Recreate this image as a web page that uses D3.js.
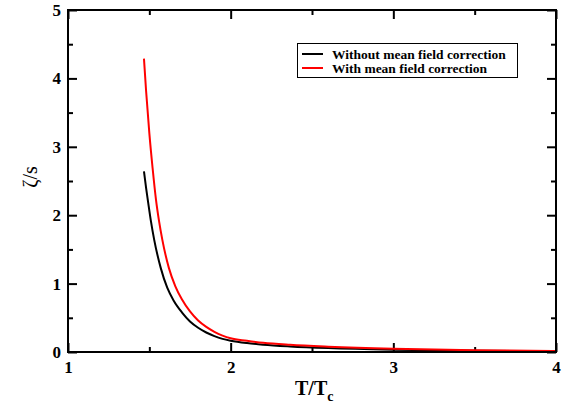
<!DOCTYPE html>
<html>
<head>
<meta charset="utf-8">
<script src="https://cdn.jsdelivr.net/npm/d3@7"></script>
<style>
  body { margin: 0; background: #fff; }
  svg text { font-family: "Liberation Serif", "Times New Roman", serif; }
</style>
</head>
<body>
<div id="chart"></div>
<script>
// values
const tNoMF    = [1.467, 1.48, 1.492, 1.51, 1.53, 1.57, 1.61, 1.65, 1.70, 1.75, 1.80, 1.85, 1.90, 1.95, 2.00, 2.10, 2.20, 2.365, 2.60, 3.00, 3.50, 4.00];
const zetaNoMF = [2.64, 2.40, 2.20, 1.91, 1.64, 1.23, 0.94, 0.75, 0.58, 0.447, 0.355, 0.285, 0.232, 0.192, 0.165, 0.13, 0.107, 0.082, 0.058, 0.034, 0.019, 0.011];
const tMF      = [1.467, 1.48, 1.50, 1.52, 1.541, 1.56, 1.58, 1.62, 1.66, 1.70, 1.75, 1.80, 1.85, 1.90, 1.95, 2.00, 2.10, 2.20, 2.365, 2.60, 3.00, 3.50, 4.00];
const zetaMF   = [4.29, 3.82, 3.20, 2.69, 2.225, 1.91, 1.64, 1.23, 0.96, 0.77, 0.593, 0.46, 0.367, 0.295, 0.24, 0.20, 0.165, 0.135, 0.105, 0.077, 0.046, 0.026, 0.015];
const seriesNames = ["Without mean field correction", "With mean field correction"];
const seriesColors = ["#000000", "#ff0000"];
const xMajor = [1, 2, 3, 4], xMinor = [1.5, 2.5, 3.5];
const yMajor = [0, 1, 2, 3, 4, 5], yMinor = [0.5, 1.5, 2.5, 3.5, 4.5];

let width = 577, height = 409;
let mLeft = 68, mRight = 556, mTop = 10, mBottom = 352;

let svg = d3.select("#chart").append("svg")
    .attr("width", width).attr("height", height);

let x = d3.scaleLinear().domain([1, 4]).range([mLeft, mRight]);
let y = d3.scaleLinear().domain([0, 5]).range([mBottom, mTop]);

// inward ticks on all four sides
function axisGroup(axis, tx, ty) {
    let g = svg.append("g").attr("transform", `translate(${tx},${ty})`).call(axis);
    g.select(".domain").remove();
    g.selectAll(".tick line").attr("stroke", "#000").attr("stroke-width", 2);
    return g;
}
let bx = axisGroup(d3.axisBottom(x).tickValues(xMajor).tickSizeInner(-9).tickSizeOuter(0).tickPadding(9).tickFormat(d3.format("d")), 0, mBottom);
axisGroup(d3.axisBottom(x).tickValues(xMinor).tickSize(-5).tickFormat(""), 0, mBottom);
axisGroup(d3.axisTop(x).tickValues(xMajor).tickSize(-9).tickFormat(""), 0, mTop);
axisGroup(d3.axisTop(x).tickValues(xMinor).tickSize(-5).tickFormat(""), 0, mTop);
let ly = axisGroup(d3.axisLeft(y).tickValues(yMajor).tickSizeInner(-9).tickSizeOuter(0).tickPadding(7).tickFormat(d3.format("d")), mLeft, 0);
axisGroup(d3.axisLeft(y).tickValues(yMinor).tickSize(-5).tickFormat(""), mLeft, 0);
axisGroup(d3.axisRight(y).tickValues(yMajor).tickSize(-9).tickFormat(""), mRight, 0);
axisGroup(d3.axisRight(y).tickValues(yMinor).tickSize(-5).tickFormat(""), mRight, 0);

[bx, ly].forEach(g => g.selectAll("text")
    .style("font-size", "17px").style("font-weight", "bold").style("fill", "#000"));

// curves
let line = d3.line().x(d => x(d[0])).y(d => y(d[1])).curve(d3.curveMonotoneX);
let series = [d3.zip(tNoMF, zetaNoMF), d3.zip(tMF, zetaMF)];
series.forEach((s, i) => {
    svg.append("path").datum(s)
        .attr("d", line)
        .attr("fill", "none")
        .attr("stroke", seriesColors[i])
        .attr("stroke-width", 2);
});

// frame
svg.append("rect")
    .attr("x", mLeft).attr("y", mTop)
    .attr("width", mRight - mLeft).attr("height", mBottom - mTop)
    .attr("fill", "none").attr("stroke", "#000").attr("stroke-width", 2);

// legend
let lg = svg.append("g");
lg.append("rect").attr("x", 297.5).attr("y", 43.5).attr("width", 220).attr("height", 34)
    .attr("fill", "#fff").attr("stroke", "#000").attr("stroke-width", 1);
seriesNames.forEach((name, i) => {
    let yy = 54 + i * 14;
    lg.append("line").attr("x1", 302).attr("x2", 323).attr("y1", yy).attr("y2", yy)
        .attr("stroke", seriesColors[i]).attr("stroke-width", 2);
    lg.append("text").attr("x", 332).attr("y", yy + 4.5)
        .style("font-size", "13.5px").style("font-weight", "bold").text(name);
});

// axis titles
let xt = svg.append("text").attr("x", 295).attr("y", 395)
    .style("font-size", "20px").style("font-weight", "bold");
xt.append("tspan").text("T/T");
xt.append("tspan").style("font-size", "14px").attr("dy", 6).text("c");

svg.append("text")
    .attr("transform", "translate(37,177) rotate(-90)")
    .attr("text-anchor", "middle")
    .style("font-size", "20px")
    .text("ζ/s");
</script>
</body>
</html>
